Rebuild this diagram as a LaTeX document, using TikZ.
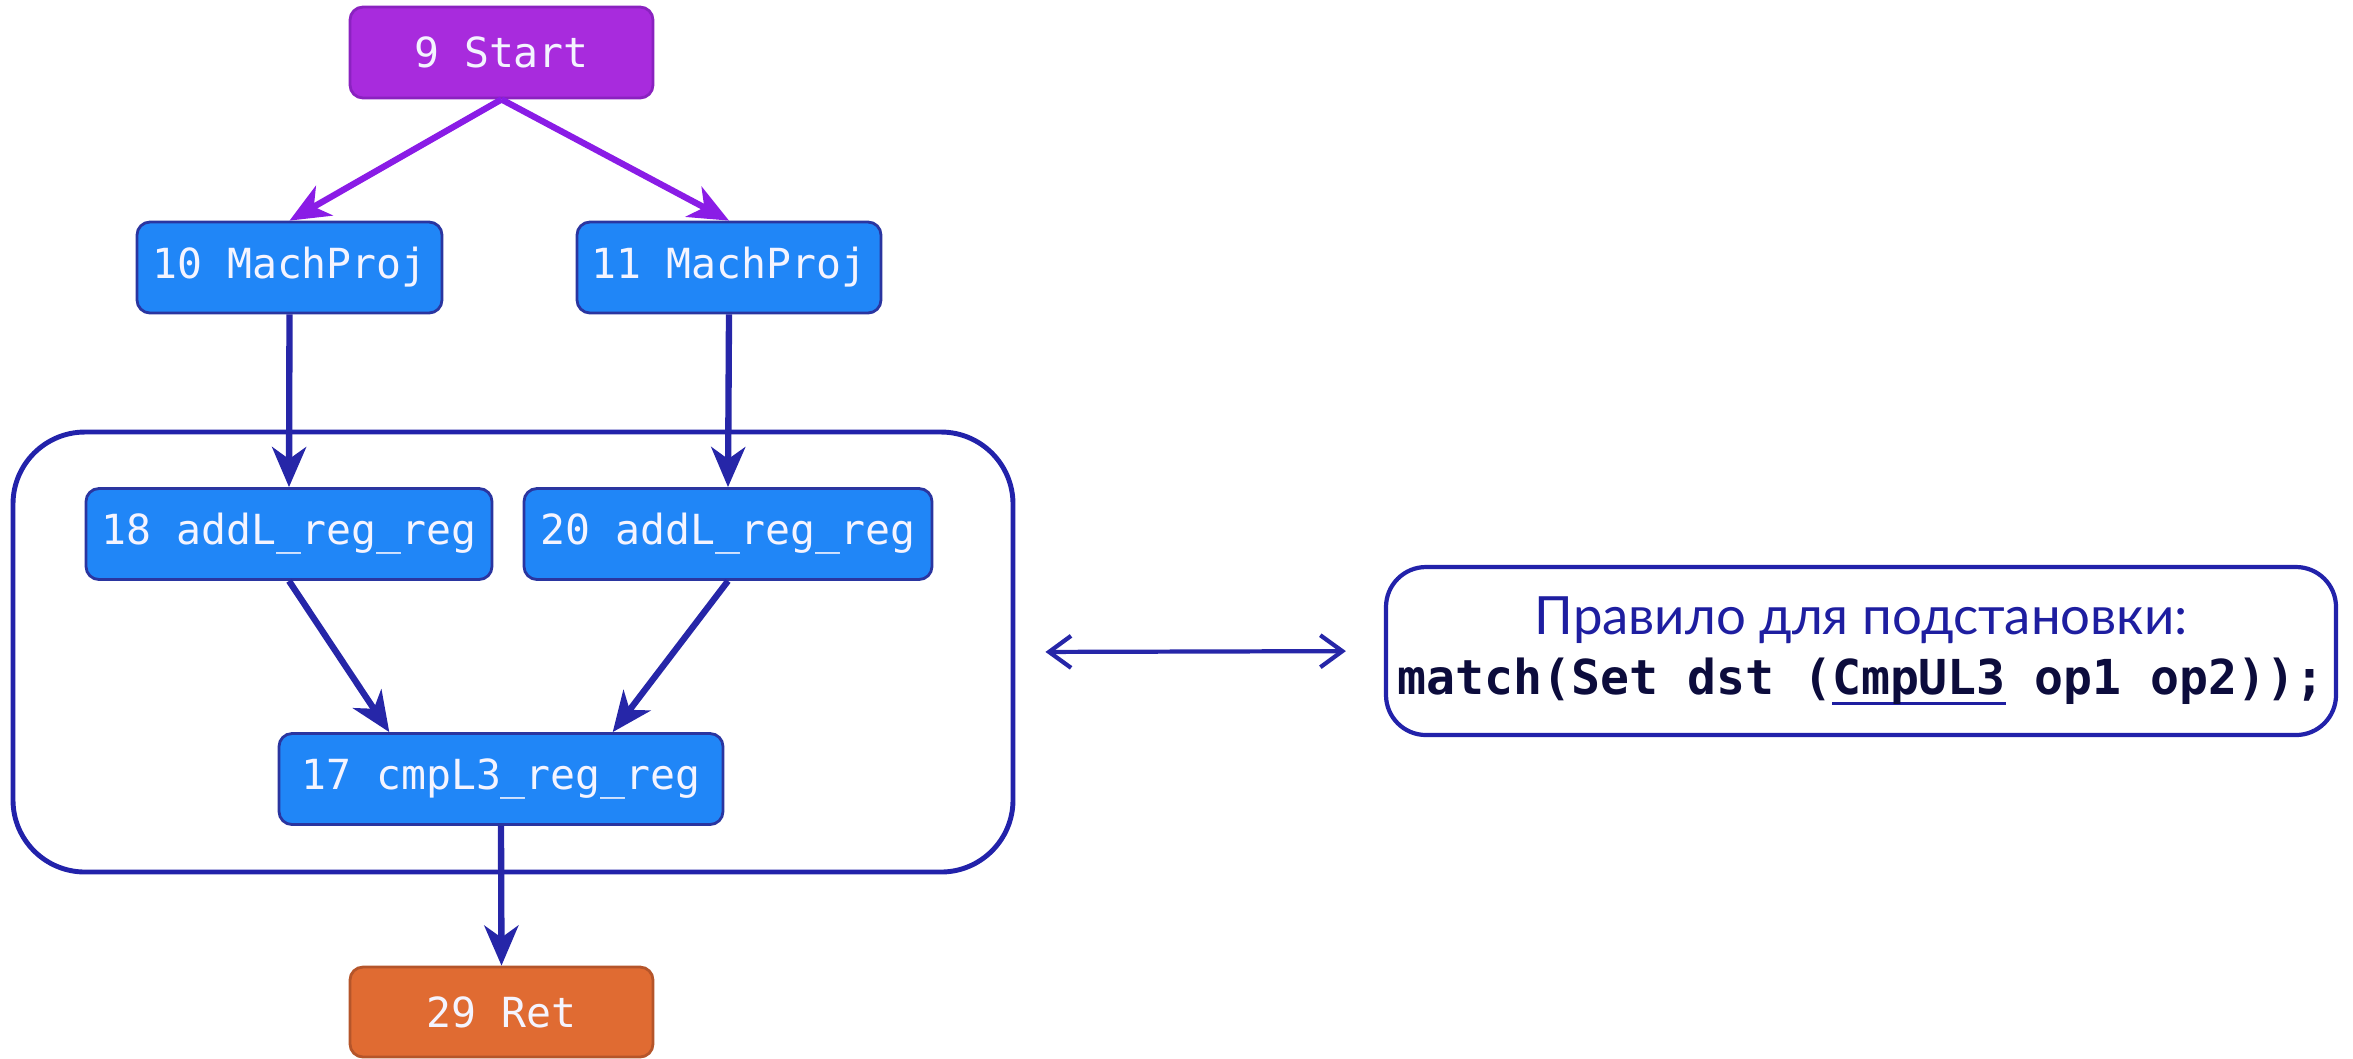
\documentclass[tikz,border=0pt]{standalone}
\usepackage{fontspec}
\setmonofont{DejaVu Sans Mono}
\newfontfamily\latofont{Lato}
\usetikzlibrary{arrows.meta,calc}

\definecolor{startfill}{HTML}{A82BDD}
\definecolor{startdraw}{HTML}{8A22C0}
\definecolor{opfill}{HTML}{2086F7}
\definecolor{opdraw}{HTML}{2A35A0}
\definecolor{retfill}{HTML}{E06B32}
\definecolor{retdraw}{HTML}{B5552A}
\definecolor{ctrlarrow}{HTML}{8A1CE6}
\definecolor{dataarrow}{HTML}{2626A8}
\definecolor{framec}{HTML}{2222AA}
\definecolor{ruletitle}{HTML}{1E1EA0}
\definecolor{rulecode}{HTML}{0C0C3C}
\definecolor{nodetext}{HTML}{F4F4FF}

% underline drawn in the frame colour
\newcommand\blueuline[1]{\setbox0=\hbox{#1}\rlap{\color{ruletitle}\rule[-0.22em]{\wd0}{0.07em}}\box0\relax}

\begin{document}
\begin{tikzpicture}[
  box/.style={rounded corners=0.13cm, draw, line width=0.8pt, inner sep=0pt,
    minimum height=0.91cm, text=nodetext,
    font=\ttfamily\fontsize{11.8}{14}\selectfont},
  startbox/.style={box, fill=startfill, draw=startdraw},
  opbox/.style={box, fill=opfill, draw=opdraw},
  retbox/.style={box, fill=retfill, draw=retdraw},
  ctrl/.style={draw=ctrlarrow, line width=1.8pt,
    -{Stealth[length=0.4cm,width=0.34cm,inset=0.12cm]}},
  data/.style={draw=dataarrow, line width=1.8pt,
    -{Stealth[length=0.4cm,width=0.34cm,inset=0.12cm]}},
  group/.style={draw=framec, line width=1.4pt, rounded corners=0.72cm,
    inner sep=0pt},
  rulebox/.style={draw=framec, line width=1.2pt, rounded corners=0.4cm,
    inner sep=0pt, align=center, font=\fontsize{15}{17.1}\selectfont},
  link/.style={draw=dataarrow, line width=1.2pt,
    {Straight Barb[length=0.22cm,width=0.32cm]}-{Straight Barb[length=0.22cm,width=0.32cm]}}
]
\useasboundingbox (0,0) rectangle (23.53,-10.58);

% group frame around the selected instructions
\node[group, minimum width=10cm, minimum height=4.4cm] (grp) at (5.13,-6.52) {};

% graph nodes
\node[startbox, minimum width=3.03cm] (n9)  at (5.015,-0.525) {9 Start};
\node[opbox, minimum width=3.05cm]    (n10) at (2.895,-2.675) {10 MachProj};
\node[opbox, minimum width=3.04cm]    (n11) at (7.29,-2.675)  {11 MachProj};
\node[opbox, minimum width=4.06cm]    (n18) at (2.89,-5.34)   {18 addL\_reg\_reg};
\node[opbox, minimum width=4.08cm]    (n20) at (7.28,-5.34)   {20 addL\_reg\_reg};
\node[opbox, minimum width=4.44cm]    (n17) at (5.01,-7.79)   {17 cmpL3\_reg\_reg};
\node[retbox, minimum width=3.03cm, minimum height=0.9cm] (n29) at (5.015,-10.12) {29 Ret};

% entry points on the top of node 17
\coordinate (in17a) at ($(n17.north west)!0.25!(n17.north east)$);
\coordinate (in17b) at ($(n17.north west)!0.75!(n17.north east)$);

% edges
\draw[ctrl] (n9.south) -- (n10.north);
\draw[ctrl] (n9.south) -- (n11.north);
\draw[data] (n10.south) -- (n18.north);
\draw[data] (n11.south) -- (n20.north);
\draw[data] (n18.south) -- (in17a);
\draw[data] (n20.south) -- (in17b);
\draw[data] (n17.south) -- (n29.north);

% rewrite rule
\node[rulebox, minimum width=9.5cm, minimum height=1.68cm] (rule) at (18.61,-6.51)
  {{\latofont\color{ruletitle}Правило для подстановки:}\\
   {\ttfamily\bfseries\fontsize{13.7}{17.1}\selectfont\color{rulecode}%
    match(Set dst (\blueuline{CmpUL3} op1 op2));}};

\draw[link, shorten <=0.3cm, shorten >=0.38cm] (grp.east) -- (rule.west);
\end{tikzpicture}
\end{document}
